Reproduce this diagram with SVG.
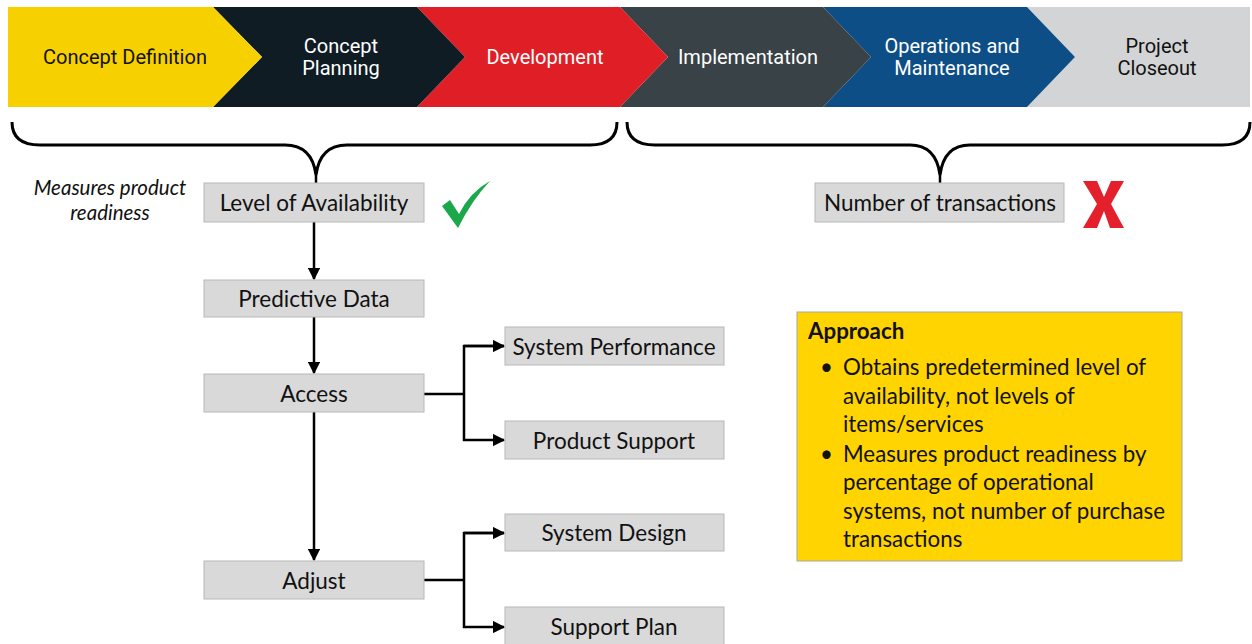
<svg xmlns="http://www.w3.org/2000/svg" width="1252" height="644" viewBox="0 0 1252 644">
<defs>
<marker id="ah" viewBox="0 0 10 10" refX="9" refY="5" markerWidth="5" markerHeight="5" orient="auto" markerUnits="strokeWidth">
<path d="M0,0 L10,5 L0,10 z" fill="#000"/>
</marker>
<style>
.ph{font-family:Roboto,"Liberation Sans",sans-serif;font-size:20px;font-weight:400;text-anchor:middle}
.box{fill:#D9D9D9;stroke:#B8B8B8;stroke-width:1}
.bt{font-family:Lato,"Open Sans",sans-serif;font-size:22.5px;fill:#111;text-anchor:middle}
.conn{fill:none;stroke:#000;stroke-width:2.5}
.brace{fill:none;stroke:#000;stroke-width:3}
.ap{font-family:Lato,"Open Sans",sans-serif;font-size:22.3px;fill:#111}
.it{font-family:Lato,"Open Sans",sans-serif;font-size:20.5px;font-style:italic;fill:#111;text-anchor:middle}
</style>
</defs>
<rect width="1252" height="644" fill="#fff"/>
<g id="phases">
<g id="phase-closeout"><polygon points="1027,7 1250,7 1250,107 1027,107 1075,57" fill="#D3D4D5"/><text class="ph" x="1157" y="53" fill="#111">Project</text><text class="ph" x="1157" y="75" fill="#111">Closeout</text></g>
<g id="phase-om"><polygon points="823,7 1027,7 1075,57 1027,107 823,107 871,57" fill="#0E4E86"/><text class="ph" x="952" y="53" fill="#fff">Operations and</text><text class="ph" x="952" y="75" fill="#fff">Maintenance</text></g>
<g id="phase-impl"><polygon points="620,7 823,7 871,57 823,107 620,107 668,57" fill="#394246"/><text class="ph" x="748" y="64" fill="#fff">Implementation</text></g>
<g id="phase-dev"><polygon points="417,7 620,7 668,57 620,107 417,107 465,57" fill="#E01E26"/><text class="ph" x="545" y="64" fill="#fff">Development</text></g>
<g id="phase-planning"><polygon points="213,7 417,7 465,57 417,107 213,107 262,57" fill="#0F1C24"/><text class="ph" x="341" y="53" fill="#fff">Concept</text><text class="ph" x="341" y="75" fill="#fff">Planning</text></g>
<g id="phase-def"><polygon points="8,7 213,7 262,57 213,107 8,107" fill="#F7D000"/><text class="ph" x="125" y="64" fill="#111">Concept Definition</text></g>
</g>
<g id="braces">
<path class="brace" d="M12,122 Q12,145 40,145 L285,145 Q312,145 316,175 Q320,145 347,145 L590,145 Q617,145 617,122"/>
<path class="brace" d="M627,122 Q627,145 655,145 L910,145 Q936,145 940,175 Q944,145 970,145 L1222,145 Q1250,145 1250,122"/>
</g>
<g id="connectors">
<line class="conn" x1="316" y1="175" x2="316" y2="183"/>
<line class="conn" x1="940" y1="175" x2="940" y2="183"/>
<line class="conn" x1="314" y1="222" x2="314" y2="279" marker-end="url(#ah)"/>
<line class="conn" x1="314" y1="317" x2="314" y2="373" marker-end="url(#ah)"/>
<line class="conn" x1="314" y1="412" x2="314" y2="560" marker-end="url(#ah)"/>
<path class="conn" d="M424,394 L464,394"/>
<path class="conn" d="M504,346 L464,346 L464,440 L504,440" marker-end="url(#ah)"/>
<path class="conn" d="M464,346 L504,346" marker-end="url(#ah)"/>
<path class="conn" d="M424,580 L464,580"/>
<path class="conn" d="M504,533 L464,533 L464,627 L504,627" marker-end="url(#ah)"/>
<path class="conn" d="M464,533 L504,533" marker-end="url(#ah)"/>
</g>
<g id="note-measures"><text class="it" x="110" y="195">Measures product</text><text class="it" x="110" y="220">readiness</text></g>
<g id="node-availability"><rect class="box" x="204" y="183" width="220" height="39"/><text class="bt" x="314" y="211">Level of Availability</text></g>
<g id="check"><path d="M442,206 L450,200 L459,214 Q470,192 490,181 Q472,200 458,228 Z" fill="#1BA84A"/></g>
<g id="node-transactions"><rect class="box" x="815" y="183" width="249" height="39"/><text class="bt" x="940" y="211">Number of transactions</text></g>
<g id="xmark"><path d="M1083,181 L1097,181 L1104,197 L1111,181 L1124,181 L1111,204 L1124,228 L1110,228 L1104,211 L1097,228 L1083,228 L1097,204 Z" fill="#E4202C"/></g>
<g id="node-predictive"><rect class="box" x="204" y="280" width="220" height="37"/><text class="bt" x="314" y="307">Predictive Data</text></g>
<g id="node-access"><rect class="box" x="204" y="374" width="220" height="38"/><text class="bt" x="314" y="402">Access</text></g>
<g id="node-adjust"><rect class="box" x="204" y="561" width="220" height="38"/><text class="bt" x="314" y="589">Adjust</text></g>
<g id="node-sysperf"><rect class="box" x="505" y="327" width="219" height="38"/><text class="bt" x="614" y="355">System Performance</text></g>
<g id="node-prodsupport"><rect class="box" x="505" y="421" width="219" height="38"/><text class="bt" x="614" y="449">Product Support</text></g>
<g id="node-sysdesign"><rect class="box" x="505" y="514" width="219" height="37"/><text class="bt" x="614" y="541">System Design</text></g>
<g id="node-supportplan"><rect class="box" x="505" y="607" width="219" height="40"/><text class="bt" x="614" y="635">Support Plan</text></g>
<g id="approach">
<rect x="797" y="312" width="385" height="249" fill="#FFD400" stroke="#A8A8A8" stroke-width="1"/>
<text class="ap" x="808" y="339" font-weight="bold">Approach</text>
<text class="ap" x="820" y="375" font-size="16">•</text>
<text class="ap" x="843" y="375">Obtains predetermined level of</text>
<text class="ap" x="843" y="404">availability, not levels of</text>
<text class="ap" x="843" y="432">items/services</text>
<text class="ap" x="820" y="462" font-size="16">•</text>
<text class="ap" x="843" y="462">Measures product readiness by</text>
<text class="ap" x="843" y="490">percentage of operational</text>
<text class="ap" x="843" y="519">systems, not number of purchase</text>
<text class="ap" x="843" y="547">transactions</text>
</g>
</svg>
